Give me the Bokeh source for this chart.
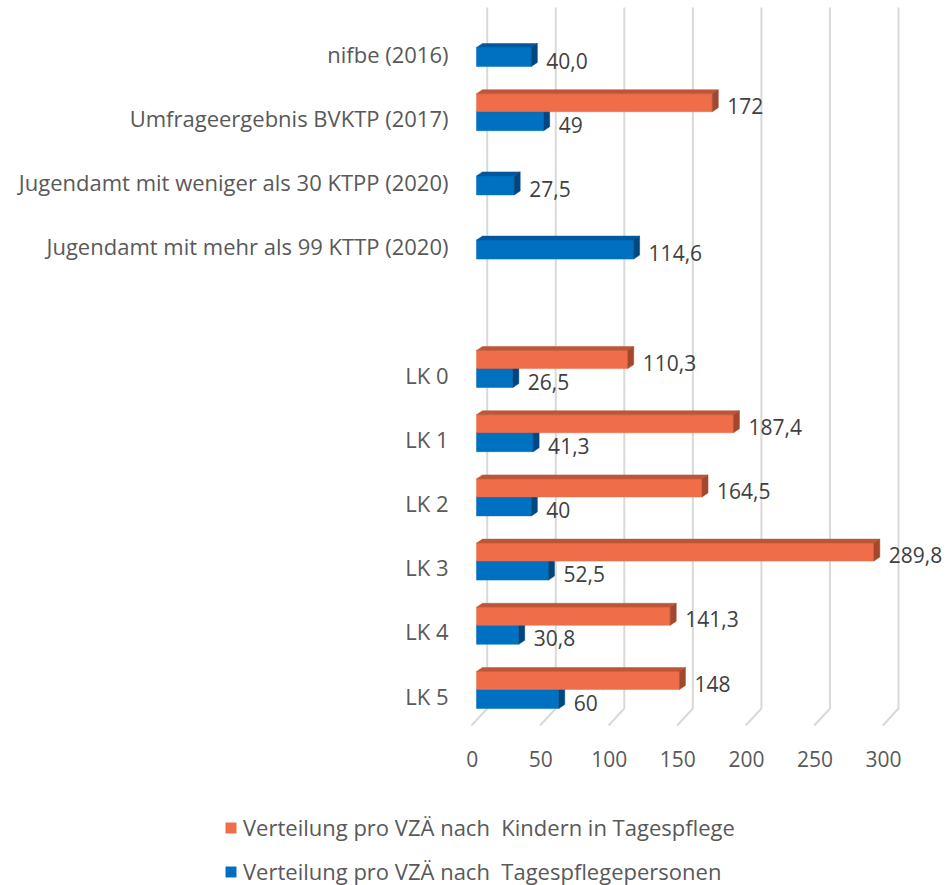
from bokeh.plotting import figure
from bokeh.models import Range1d, ColumnDataSource, Legend, LegendItem
from bokeh.embed import file_html
from bokeh.resources import INLINE
from bokeh.core.properties import value

# ---------------- data ----------------
categories = [
    "nifbe (2016)",
    "Umfrageergebnis BVKTP (2017)",
    "Jugendamt mit weniger als 30 KTPP (2020)",
    "Jugendamt mit mehr als 99 KTTP (2020)",
    "",
    "LK 0", "LK 1", "LK 2", "LK 3", "LK 4", "LK 5",
]
kinder = [None, 172, None, None, None, 110.3, 187.4, 164.5, 289.8, 141.3, 148]
personen = [40.0, 49, 27.5, 114.6, None, 26.5, 41.3, 40, 52.5, 30.8, 60]
kinder_labels = [None, "172", None, None, None, "110,3", "187,4", "164,5", "289,8", "141,3", "148"]
personen_labels = ["40,0", "49", "27,5", "114,6", None, "26,5", "41,3", "40", "52,5", "30,8", "60"]
x_ticks = [0, 50, 100, 150, 200, 250, 300]
x_tick_labels = ["0", "50", "100", "150", "200", "250", "300"]
series_names = ["Verteilung pro VZÄ nach  Kindern in Tagespflege",
                "Verteilung pro VZÄ nach  Tagespflegepersonen"]

# ---------------- layout / style ----------------
W, H = 948, 885
PX = 1.371      # px per x unit
PY = 64.2       # px per category
X0 = 471.5      # x of value 0 at floor front
YB = 695.0      # y of last category center (from top)
FONT = "Open Sans"
TXT = "#595959"
LBL = "#404040"
OR_F, OR_T, OR_S = "#EF6D49", "#BD5638", "#A3472D"
BL_F, BL_T, BL_S = "#0070C0", "#00589C", "#00477F"


def dx(px):
    return px / PX


def dy(px):
    return px / PY


n = len(categories)
pos = [n - 1 - i for i in range(n)]

p = figure(width=W, height=H,
           x_range=Range1d(-X0 / PX, (W - X0) / PX),
           y_range=Range1d(-(H - YB) / PY, YB / PY),
           output_backend="svg", toolbar_location=None,
           x_axis_location=None, y_axis_location=None,
           min_border=0, outline_line_color=None)
p.grid.visible = False

# gridlines (back wall + floor slant)
top = (YB - 7) / PY
floor_back = -dy(13)
floor_front = -dy(30)
gxs = [[v + dx(15.2), v + dx(15.2), v - dx(0.5)] for v in x_ticks]
gys = [[top, floor_back, floor_front] for _ in x_ticks]
p.multi_line(gxs, gys, line_color="#D9D9D9", line_width=2)


def bars(vals, top_px, bot_px):
    f = dict(left=[], right=[], top=[], bottom=[])
    tx, ty, sx, sy = [], [], [], []
    for v, c in zip(vals, pos):
        if v is None:
            continue
        x0 = dx(4.5)
        x1 = v + dx(4.5)
        yt = c + dy(top_px)
        yb = c + dy(bot_px)
        f["left"].append(x0); f["right"].append(x1)
        f["top"].append(yt); f["bottom"].append(yb)
        tx.append([x0, x0 + dx(6), x1 + dx(6), x1])
        ty.append([yt, yt + dy(4), yt + dy(4), yt])
        sx.append([x1, x1 + dx(6), x1 + dx(6), x1])
        sy.append([yt, yt + dy(4), yb + dy(4), yb])
    return f, tx, ty, sx, sy


bf, btx, bty, bsx, bsy = bars(personen, 6, -13)
of, otx, oty, osx, osy = bars(kinder, 24, 6)

blue_r = p.quad(source=ColumnDataSource(bf), left="left", right="right", top="top", bottom="bottom",
                fill_color=BL_F, line_color=BL_F, line_width=0.5)
p.patches(btx, bty, fill_color=BL_T, line_color=BL_T, line_width=0.5)
p.patches(bsx, bsy, fill_color=BL_S, line_color=BL_S, line_width=0.5)
orange_r = p.quad(source=ColumnDataSource(of), left="left", right="right", top="top", bottom="bottom",
                  fill_color=OR_F, line_color=OR_F, line_width=0.5)
p.patches(otx, oty, fill_color=OR_T, line_color=OR_T, line_width=0.5)
p.patches(osx, osy, fill_color=OR_S, line_color=OR_S, line_width=0.5)

# data labels
lx, ly, lt = [], [], []
for v, c, t in zip(personen, pos, personen_labels):
    if v is not None:
        lx.append(v + dx(4.5 + 15)); ly.append(c - dy(7)); lt.append(t)
for v, c, t in zip(kinder, pos, kinder_labels):
    if v is not None:
        lx.append(v + dx(4.5 + 15)); ly.append(c + dy(12)); lt.append(t)
p.text(lx, ly, text=lt, text_font=value(FONT), text_font_size="21px", text_color=LBL,
       text_align="left", text_baseline="middle")

# category labels
p.text([dx(-23.5)] * n, pos, text=categories, text_font=value(FONT), text_font_size="22px",
       text_color=TXT, text_align="right", text_baseline="middle")

# x tick labels
p.text([v + dx(0.2) for v in x_ticks], [-dy(63)] * len(x_ticks), text=x_tick_labels,
       text_font=value(FONT), text_font_size="21px", text_color=TXT,
       text_align="center", text_baseline="middle")

legend = Legend(items=[LegendItem(label=series_names[0], renderers=[orange_r]),
                       LegendItem(label=series_names[1], renderers=[blue_r])],
                location=(224, -1), orientation="vertical",
                border_line_color=None, background_fill_alpha=0,
                padding=0, margin=0, spacing=14,
                glyph_width=13, glyph_height=13, label_standoff=6,
                label_text_font=FONT, label_text_font_size="22px", label_text_color=TXT)
p.add_layout(legend)

open("out.html", "w").write(file_html(p, INLINE))
